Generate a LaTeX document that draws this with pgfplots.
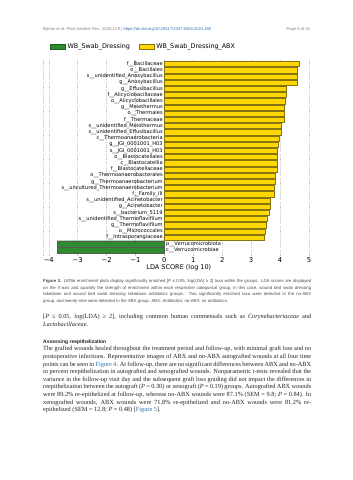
\documentclass[border=0pt]{standalone}
\usepackage{pgfplots}
\pgfplotsset{compat=1.18}
\usepackage{fontspec}
\setmainfont{Liberation Serif}
\newfontfamily\djv{DejaVu Sans}
\newfontfamily\las{Liberation Sans}
\definecolor{gold}{HTML}{FFD700}
\definecolor{goldedge}{HTML}{857410}
\definecolor{lgreen}{HTML}{2E8B2E}
\definecolor{lgreenedge}{HTML}{1E5E1E}
\definecolor{linkblue}{HTML}{2B6CB0}
\definecolor{captgray}{HTML}{4A4A4A}
\definecolor{bodytext}{HTML}{222222}
\newcommand\fs[2]{\fontsize{#1bp}{#2bp}\selectfont}
\newcommand\TJ[4][]{\node[anchor=base west, inner sep=0pt,#1] at (#2bp,{480bp-#3bp}) {\makebox[268bp][s]{#4}};}
\newcommand\TL[4][]{\node[anchor=base west, inner sep=0pt,#1] at (#2bp,{480bp-#3bp}) {#4};}
\begin{document}
\begin{tikzpicture}
\path[use as bounding box, fill=white] (0,0) rectangle (353bp,480bp);
\begin{axis}[
  at={(43bp,224.4bp)}, anchor=south west,
  scale only axis, width=271.7bp, height=196.6bp,
  xmin=-4.2, xmax=5.2, ymin=-0.9, ymax=30.8,
  ytick=\empty,
  xtick={-4,-3,-2,-1,0,1,2,3,4,5},
  xticklabels={−4,−3,−2,−1,0,1,2,3,4,5},
  xmajorgrids,
  major grid style={gray!45, line width=0.4bp, dash pattern=on 1.2bp off 1.2bp},
  extra x ticks={-4.2}, extra x tick labels={},
  extra x tick style={grid=major},
  axis line style={draw=none}, tick style={draw=none},
  xticklabel style={font=\djv\fs{6.8}{8}, anchor=center, yshift=-4.5bp},
  xlabel={LDA SCORE (log 10)},
  xlabel style={font=\djv\fs{6.5}{7}, at={(axis description cs:0.5,0)}, anchor=center, yshift=-12.4bp},
  clip=false,
  legend image code/.code={\draw[#1] (0bp,-2.2bp) rectangle (15bp,2.2bp);},
  legend style={draw=none, fill=none, at={(axis description cs:0.0258,1.0626)}, anchor=west,
    legend columns=2, font=\djv\fs{6.4}{7}, inner sep=0pt,
    /tikz/every even column/.append style={column sep=7bp}},
  legend cell align=left,
]
\addlegendimage{fill=lgreen, draw=lgreenedge, line width=0.4bp}
\addlegendentry{WB\_Swab\_Dressing}
\addlegendimage{fill=gold, draw=goldedge, line width=0.4bp}
\addlegendentry{WB\_Swab\_Dressing\_ABX}

\addplot[xbar, bar width=5.2bp, bar shift=0pt, fill=gold, draw=goldedge, line width=0.4bp, forget plot]
coordinates {
(4.65,30) (4.61,29) (4.59,28) (4.59,27) (4.20,26) (4.20,25) (4.18,24) (4.15,23)
(4.14,22) (4.15,21) (4.03,20) (4.03,19) (3.96,18) (3.95,17) (3.92,16) (3.92,15)
(3.92,14) (3.92,13) (3.82,12) (3.82,11) (3.80,10) (3.79,9) (3.65,8) (3.65,7)
(3.61,6) (3.54,5) (3.52,4) (3.50,3) (3.45,2)
};
\addplot[xbar, bar width=6.2bp, bar shift=0pt, fill=lgreen, draw=gray!70!black, line width=0.4bp, forget plot]
coordinates {(-3.71,1) (-3.70,0)};

\addplot[draw=none, forget plot, nodes near coords, point meta=explicit symbolic,
  every node near coord/.append style={anchor=east, inner sep=0pt, xshift=-1.5bp, font=\djv\fs{5.1}{6}, text=black}]
coordinates {
(0,30) [f\_\_Bacillaceae]
(0,29) [o\_\_Bacillales]
(0,28) [s\_\_unidentified\_Anoxybacillus]
(0,27) [g\_\_Anoxybacillus]
(0,26) [g\_\_Effusibacillus]
(0,25) [f\_\_Alicyclobacillaceae]
(0,24) [o\_\_Alicyclobacillales]
(0,23) [g\_\_Meiothermus]
(0,22) [o\_\_Thermales]
(0,21) [f\_\_Thermaceae]
(0,20) [s\_\_unidentified\_Meiothermus]
(0,19) [s\_\_unidentified\_Effusibacillus]
(0,18) [c\_\_Thermoanaerobacteria]
(0,17) [g\_\_JGI\_0001001\_H03]
(0,16) [s\_\_JGI\_0001001\_H03]
(0,15) [o\_\_Blastocatellales]
(0,14) [c\_\_Blastocatellia]
(0,13) [f\_\_Blastocatellaceae]
(0,12) [o\_\_Thermoanaerobacterales]
(0,11) [g\_\_Thermoanaerobacterium]
(0,10) [s\_\_uncultured\_Thermoanaerobacterium]
(0,9) [f\_\_Family\_III]
(0,8) [s\_\_unidentified\_Acinetobacter]
(0,7) [g\_\_Acinetobacter]
(0,6) [s\_\_bacterium\_5119]
(0,5) [s\_\_unidentified\_Thermoflavifilum]
(0,4) [g\_\_Thermoflavifilum]
(0,3) [o\_\_Micrococcales]
(0,2) [f\_\_Intrasporangiaceae]
};
\addplot[draw=none, forget plot, nodes near coords, point meta=explicit symbolic,
  every node near coord/.append style={anchor=west, inner sep=0pt, xshift=1.5bp, font=\djv\fs{5.1}{6}, text=black}]
coordinates {
(0,1) [p\_\_Verrucomicrobiota]
(0,0) [c\_\_Verrucomicrobiae]
};
\end{axis}

% header
\TL{42}{30.2}{\las\fs{4.1}{5}\color{gray}Tejirian et al. Plast Aesthet Res. 2025;12:9 | \textcolor{linkblue}{https://dx.doi.org/10.20517/2347-9264.2024.180}}
\node[anchor=base east, inner sep=0pt] at (310bp,{480bp-30.2bp}) {\las\fs{4.1}{5}\color{gray}Page 8 of 16};

% caption
\TJ[font=\las\fs{4.3}{5}, text=captgray]{43}{283}{\textbf{Figure 2.} LEfSe enrichment plots display significantly enriched [\textit{P} ≤ 0.05, log(LDA) ≥ 2] taxa within the groups. LDA scores are displayed}
\TJ[font=\las\fs{4.3}{5}, text=captgray]{43}{289.5}{on the X-axis and quantify the strength of enrichment within each respective categorical group, in this case, wound bed swab dressing}
\TJ[font=\las\fs{4.3}{5}, text=captgray]{43}{296}{takedown and wound bed swab dressing takedown antibiotics groups. Two significantly enriched taxa were detected in the no-ABX}
\TL[font=\las\fs{4.3}{5}, text=captgray]{43}{302.5}{group, and twenty-nine were detected in the ABX group. ABX: Antibiotics; no-ABX: no antibiotics.}

% body paragraph 1
\TJ[font=\fs{6.3}{7}, text=bodytext]{43}{319}{[\textit{P} ≤ 0.05, log(LDA) ≥ 2], including common human commensals such as \textit{Corynebacteriaceae} and}
\TL[font=\fs{6.3}{7}, text=bodytext]{43}{326.5}{\textit{Lactobacillaceae}.}

% heading
\TL[font=\las\bfseries\fs{5.0}{6}, text=bodytext]{43}{343.5}{Assessing reepithelization}

% body paragraph 2
\TJ[font=\fs{6.3}{7}, text=bodytext]{43}{351}{The grafted wounds healed throughout the treatment period and follow-up, with minimal graft loss and no}
\TJ[font=\fs{6.3}{7}, text=bodytext]{43}{358.6}{postoperative infections. Representative images of ABX and no-ABX autografted wounds at all four time}
\TJ[font=\fs{6.3}{7}, text=bodytext]{43}{366.2}{points can be seen in \textcolor{linkblue}{Figure 4}. At follow-up, there are no significant differences between ABX and no-ABX}
\TJ[font=\fs{6.3}{7}, text=bodytext]{43}{373.8}{in percent reepithelization in autografted and xenografted wounds. Nonparametric t-tests revealed that the}
\TJ[font=\fs{6.3}{7}, text=bodytext]{43}{381.4}{variance in the follow-up visit day and the subsequent graft loss grading did not impact the differences in}
\TJ[font=\fs{6.3}{7}, text=bodytext]{43}{389}{reepithelization between the autograft (\textit{P} = 0.30) or xenograft (\textit{P} = 0.19) groups. Autografted ABX wounds}
\TJ[font=\fs{6.3}{7}, text=bodytext]{43}{396.6}{were 89.2\% re-epithelized at follow-up, whereas no-ABX wounds were 87.1\% (SEM = 9.8; \textit{P} = 0.84). In}
\TJ[font=\fs{6.3}{7}, text=bodytext]{43}{404.2}{xenografted wounds, ABX wounds were 71.8\% re-epithelized and no-ABX wounds were 81.2\% re-}
\TL[font=\fs{6.3}{7}, text=bodytext]{43}{411.8}{epithelized (SEM = 12.8; \textit{P} = 0.48) [\textcolor{linkblue}{Figure 5}].}
\end{tikzpicture}
\end{document}
